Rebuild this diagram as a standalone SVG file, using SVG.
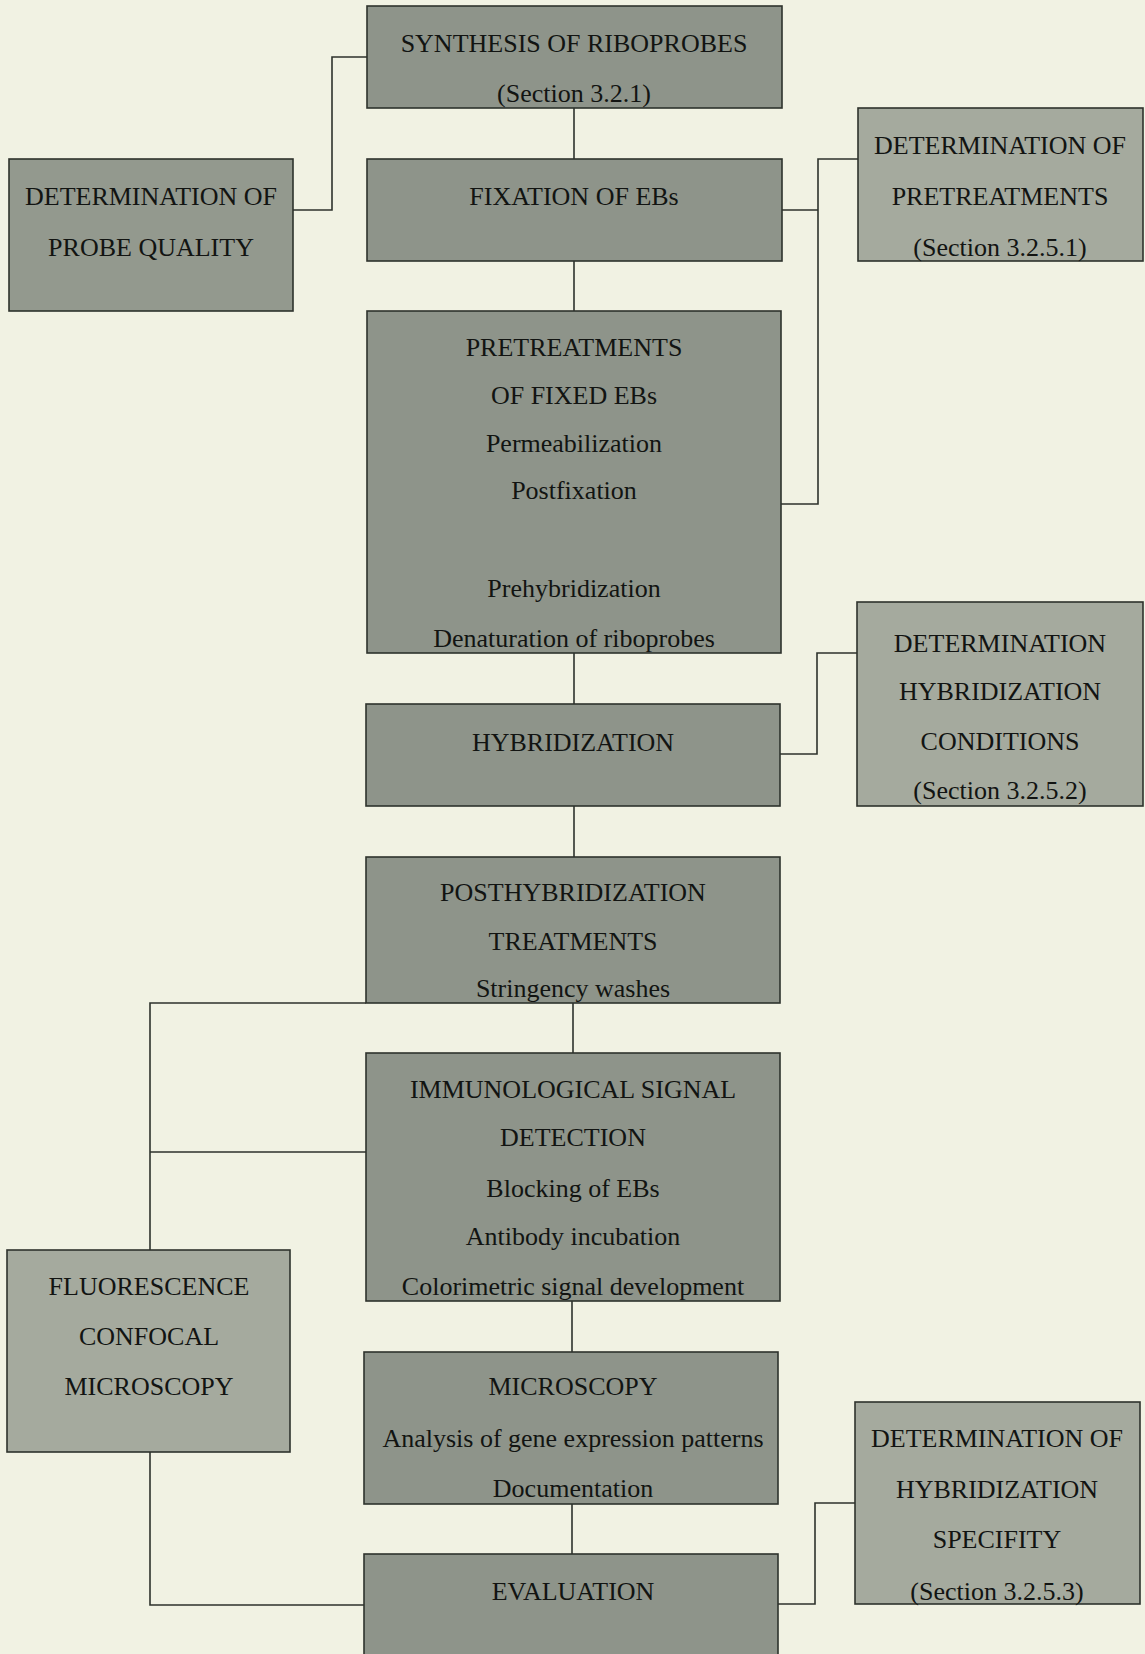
<svg xmlns="http://www.w3.org/2000/svg" width="1145" height="1654" viewBox="0 0 1145 1654">
<style>
.bg{fill:#f1f2e3}
.box{stroke:#2e322c;stroke-width:1.6}
.main{fill:#8e948a}
.side{fill:#a5aa9e}
.mid{fill:#93998e}
text{font-family:"Liberation Serif","Times New Roman",serif;font-size:26px;fill:#121412;text-anchor:middle}
.conn{fill:none;stroke:#2e322c;stroke-width:1.6}
</style>
<rect class="bg" x="0" y="0" width="1145" height="1654"/>
<g id="connectors">
<path class="conn" d="M367,57 H332 V210 H293"/>
<path class="conn" d="M574,108 V159"/>
<path class="conn" d="M574,261 V311"/>
<path class="conn" d="M782,210 H818 M858,159 H818 V504 H781"/>
<path class="conn" d="M574,653 V704"/>
<path class="conn" d="M780,754 H817 V653 H857"/>
<path class="conn" d="M574,806 V857"/>
<path class="conn" d="M573,1003 V1053"/>
<path class="conn" d="M366,1003 H150 V1250 M150,1152 H366"/>
<path class="conn" d="M572,1301 V1352"/>
<path class="conn" d="M572,1504 V1554"/>
<path class="conn" d="M150,1452 V1605 H364"/>
<path class="conn" d="M778,1604 H815 V1503 H855"/>
</g>
<g id="synthesis">
<rect class="box main" x="367" y="6" width="415" height="102"/>
<text x="574" y="52">SYNTHESIS OF RIBOPROBES</text>
<text x="574" y="102">(Section 3.2.1)</text>
</g>
<g id="probe-quality">
<rect class="box mid" x="9" y="159" width="284" height="152"/>
<text x="151" y="205">DETERMINATION OF</text>
<text x="151" y="256">PROBE QUALITY</text>
</g>
<g id="fixation">
<rect class="box main" x="367" y="159" width="415" height="102"/>
<text x="574" y="205">FIXATION OF EBs</text>
</g>
<g id="det-pretreatments">
<rect class="box side" x="858" y="108" width="285" height="153"/>
<text x="1000" y="154">DETERMINATION OF</text>
<text x="1000" y="205">PRETREATMENTS</text>
<text x="1000" y="256">(Section 3.2.5.1)</text>
</g>
<g id="pretreatments">
<rect class="box main" x="367" y="311" width="414" height="342"/>
<text x="574" y="356">PRETREATMENTS</text>
<text x="574" y="404">OF FIXED EBs</text>
<text x="574" y="452">Permeabilization</text>
<text x="574" y="499">Postfixation</text>
<text x="574" y="597">Prehybridization</text>
<text x="574" y="647">Denaturation of riboprobes</text>
</g>
<g id="hybridization">
<rect class="box main" x="366" y="704" width="414" height="102"/>
<text x="573" y="751">HYBRIDIZATION</text>
</g>
<g id="det-conditions">
<rect class="box side" x="857" y="602" width="286" height="204"/>
<text x="1000" y="652">DETERMINATION</text>
<text x="1000" y="700">HYBRIDIZATION</text>
<text x="1000" y="750">CONDITIONS</text>
<text x="1000" y="799">(Section 3.2.5.2)</text>
</g>
<g id="posthybridization">
<rect class="box main" x="366" y="857" width="414" height="146"/>
<text x="573" y="901">POSTHYBRIDIZATION</text>
<text x="573" y="950">TREATMENTS</text>
<text x="573" y="997">Stringency washes</text>
</g>
<g id="immunological">
<rect class="box main" x="366" y="1053" width="414" height="248"/>
<text x="573" y="1098">IMMUNOLOGICAL SIGNAL</text>
<text x="573" y="1146">DETECTION</text>
<text x="573" y="1197">Blocking of EBs</text>
<text x="573" y="1245">Antibody incubation</text>
<text x="573" y="1295">Colorimetric signal development</text>
</g>
<g id="fluorescence">
<rect class="box side" x="7" y="1250" width="283" height="202"/>
<text x="149" y="1295">FLUORESCENCE</text>
<text x="149" y="1345">CONFOCAL</text>
<text x="149" y="1395">MICROSCOPY</text>
</g>
<g id="microscopy">
<rect class="box main" x="364" y="1352" width="414" height="152"/>
<text x="573" y="1395">MICROSCOPY</text>
<text x="573" y="1447">Analysis of gene expression patterns</text>
<text x="573" y="1497">Documentation</text>
</g>
<g id="evaluation">
<rect class="box main" x="364" y="1554" width="414" height="110"/>
<text x="573" y="1600">EVALUATION</text>
</g>
<g id="det-specificity">
<rect class="box side" x="855" y="1402" width="285" height="202"/>
<text x="997" y="1447">DETERMINATION OF</text>
<text x="997" y="1498">HYBRIDIZATION</text>
<text x="997" y="1548">SPECIFITY</text>
<text x="997" y="1600">(Section 3.2.5.3)</text>
</g>
</svg>
